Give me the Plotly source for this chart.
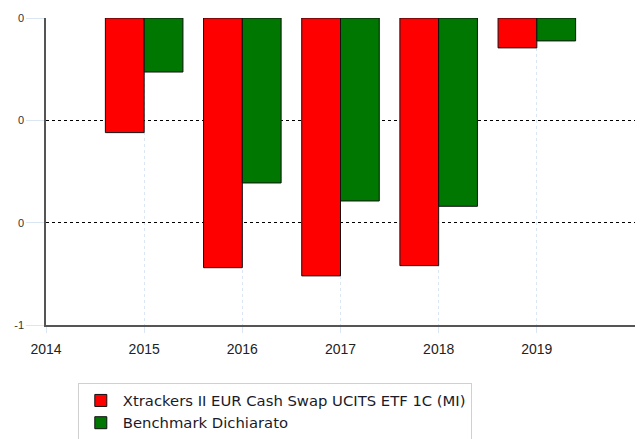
import plotly.graph_objects as go

years = [2015, 2016, 2017, 2018, 2019]
fund = [-0.28, -0.61, -0.63, -0.605, -0.073]
bench = [-0.132, -0.403, -0.447, -0.46, -0.056]
ytick_vals = [0, -0.25, -0.5, -0.75]
ytick_text = ["0", "0", "0", "-1"]
xtick_vals = [2014, 2015, 2016, 2017, 2018, 2019]

fig = go.Figure()
fig.add_trace(go.Bar(x=years, y=fund, name="Xtrackers II EUR Cash Swap UCITS ETF 1C (MI)",
                     marker=dict(color="#ff0000", line=dict(color="#111111", width=1))))
fig.add_trace(go.Bar(x=years, y=bench, name="Benchmark Dichiarato",
                     marker=dict(color="#007700", line=dict(color="#111111", width=1))))

fig.update_layout(
    width=640, height=439,
    margin=dict(l=46, r=5, t=18, b=114, autoexpand=False),
    paper_bgcolor="white", plot_bgcolor="white",
    barmode="group", bargap=0.21, bargroupgap=0,
    showlegend=True,
    legend=dict(x=0.054, y=-0.19, xanchor="left", yanchor="top",
                bordercolor="#d0d0d0", borderwidth=1,
                font=dict(family="DejaVu Sans", size=14.8, color="#1a1a2a"),
                tracegroupgap=0, itemwidth=34),
    xaxis=dict(range=[2014, 2020], tickvals=xtick_vals, ticktext=[str(v) for v in xtick_vals],
               automargin=False,
               showgrid=True, gridcolor="#dbe6f5", griddash="dot", gridwidth=1,
               showline=True, linecolor="#555555", linewidth=1.5,
               ticks="outside", tickcolor="#dbe6f5", ticklen=6, ticklabelstandoff=4,
               tickfont=dict(family="Liberation Sans, Arial", size=14, color="#222222"),
               zeroline=False),
    yaxis=dict(range=[-0.75, 0], tickvals=ytick_vals, ticktext=ytick_text,
               automargin=False,
               showgrid=True, gridcolor="#000000", griddash="dot", gridwidth=1,
               showline=True, linecolor="#555555", linewidth=1.5,
               ticks="outside", tickcolor="#dbe6f5", ticklen=18,
               tickfont=dict(family="Liberation Sans, Arial", size=11, color="#333333"),
               zeroline=False),
)

fig.write_html("out.html", config={"displayModeBar": False},
               post_script="document.body.style.margin='0';document.body.style.overflow='hidden';")
